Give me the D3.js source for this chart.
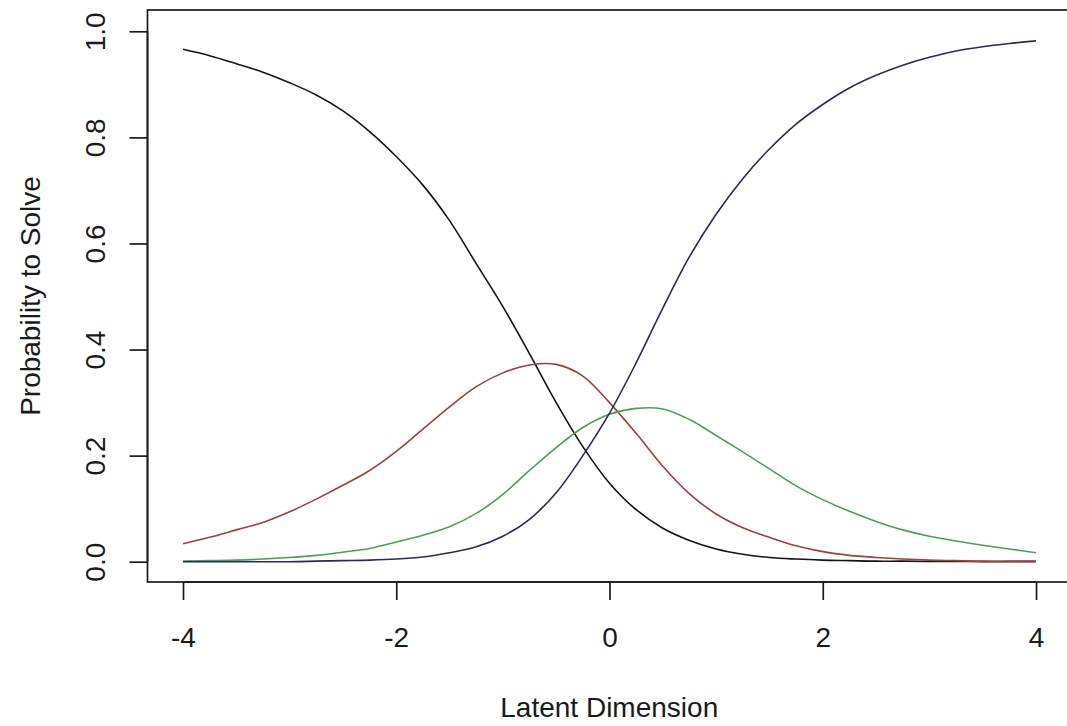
<!DOCTYPE html>
<html>
<head>
<meta charset="utf-8">
<script src="https://cdn.jsdelivr.net/npm/d3@7"></script>
<style>
  html, body { margin: 0; padding: 0; background: #ffffff; }
  svg { display: block; }
  text { font-family: "Liberation Sans", Arial, sans-serif; fill: #1a1a1a; }
</style>
</head>
<body>
<svg id="chart" width="1067" height="726"></svg>
<script>
// Latent trait values at which the category curves are evaluated
const theta = [-4, -3.75, -3.5, -3.25, -3, -2.75, -2.5, -2.25, -2, -1.75, -1.5, -1.25, -1, -0.75, -0.5, -0.25,
  0, 0.25, 0.5, 0.75, 1, 1.25, 1.5, 1.75, 2, 2.25, 2.5, 2.75, 3, 3.25, 3.5, 3.75, 4];

// Category response probabilities
const cat0 = [0.966, 0.954, 0.939, 0.923, 0.903, 0.880, 0.850, 0.811, 0.764, 0.710, 0.643, 0.562, 0.481, 0.392, 0.300, 0.217,
  0.148, 0.098, 0.063, 0.040, 0.024, 0.014, 0.008, 0.005, 0.003, 0.002, 0.001, 0.001, 0.0005, 0.0003, 0.0002, 0.0001, 0.0001];
const cat1 = [0.034, 0.046, 0.060, 0.074, 0.094, 0.118, 0.144, 0.172, 0.208, 0.250, 0.292, 0.330, 0.356, 0.371, 0.372, 0.350,
  0.300, 0.242, 0.180, 0.128, 0.090, 0.064, 0.046, 0.030, 0.019, 0.012, 0.008, 0.005, 0.003, 0.002, 0.001, 0.001, 0.001];
const cat2 = [0.001, 0.002, 0.003, 0.005, 0.008, 0.012, 0.018, 0.025, 0.037, 0.050, 0.066, 0.091, 0.127, 0.172, 0.215, 0.253,
  0.278, 0.289, 0.288, 0.268, 0.238, 0.207, 0.175, 0.143, 0.117, 0.095, 0.076, 0.060, 0.048, 0.039, 0.031, 0.024, 0.017];
const cat3 = [0.000, 0.000, 0.000, 0.000, 0.000, 0.001, 0.002, 0.003, 0.005, 0.009, 0.017, 0.028, 0.048, 0.080, 0.130, 0.200,
  0.280, 0.375, 0.478, 0.575, 0.655, 0.722, 0.778, 0.825, 0.862, 0.893, 0.917, 0.936, 0.951, 0.963, 0.971, 0.977, 0.982];

const seriesColors = ["#141414", "#9e3f3a", "#47a24f", "#2a2862"];

const xTicks = [-4, -2, 0, 2, 4];
const yTicks = [0, 0.2, 0.4, 0.6, 0.8, 1.0];
const xTitle = "Latent Dimension";
const yTitle = "Probability to Solve";

// Plot region
const box = { left: 147.5, top: 10, right: 1071, bottom: 582 };

const x = d3.scaleLinear().domain([-4, 4]).range([183, 1036]);
const y = d3.scaleLinear().domain([0, 1]).range([561.7, 31.3]);

const svg = d3.select("#chart");
const fontPx = 28;

// Curves
const series = [cat0, cat1, cat2, cat3];
const line = d3.line()
  .x(d => x(d[0]))
  .y(d => y(d[1]))
  .curve(d3.curveCatmullRom.alpha(0.5));

svg.append("g")
  .selectAll("path")
  .data(series)
  .join("path")
  .attr("d", vals => line(theta.map((t, i) => [t, vals[i]])))
  .attr("fill", "none")
  .attr("stroke", (d, i) => seriesColors[i])
  .attr("stroke-width", 1.6)
  .attr("stroke-linejoin", "round");

// Frame around the plot region
svg.append("rect")
  .attr("x", box.left)
  .attr("y", box.top)
  .attr("width", box.right - box.left)
  .attr("height", box.bottom - box.top)
  .attr("fill", "none")
  .attr("stroke", "#1a1a1a")
  .attr("stroke-width", 1.7);

// Bottom axis
const xAxis = d3.axisBottom(x)
  .tickValues(xTicks)
  .tickFormat(d => d < 0 ? "-" + Math.abs(d) : String(d))
  .tickSize(18)
  .tickPadding(27);
const gx = svg.append("g")
  .attr("transform", `translate(0,${box.bottom})`)
  .call(xAxis);
gx.select(".domain")
  .attr("d", `M${x(xTicks[0])},0H${x(xTicks[xTicks.length - 1])}`)
  .attr("stroke", "#1a1a1a").attr("stroke-width", 1.7);
gx.selectAll(".tick line").attr("stroke", "#1a1a1a").attr("stroke-width", 1.7);
gx.selectAll(".tick text")
  .style("font-family", "Liberation Sans, Arial, sans-serif")
  .style("font-size", fontPx + "px")
  .attr("fill", "#1a1a1a");

// Left axis with labels rotated parallel to the axis
const yAxis = d3.axisLeft(y)
  .tickValues(yTicks)
  .tickFormat(d3.format(".1f"))
  .tickSize(18);
const gy = svg.append("g")
  .attr("transform", `translate(${box.left},0)`)
  .call(yAxis);
gy.select(".domain")
  .attr("d", `M0,${y(yTicks[0])}V${y(yTicks[yTicks.length - 1])}`)
  .attr("stroke", "#1a1a1a").attr("stroke-width", 1.7);
gy.selectAll(".tick line").attr("stroke", "#1a1a1a").attr("stroke-width", 1.7);
gy.selectAll(".tick text")
  .attr("x", 0)
  .attr("dy", null)
  .attr("transform", "translate(-42.5,0) rotate(-90)")
  .attr("text-anchor", "middle")
  .attr("dominant-baseline", "auto")
  .style("font-family", "Liberation Sans, Arial, sans-serif")
  .style("font-size", fontPx + "px")
  .attr("fill", "#1a1a1a");

// Axis titles
svg.append("text")
  .attr("x", (box.left + box.right) / 2)
  .attr("y", 717)
  .attr("text-anchor", "middle")
  .style("font-size", fontPx + "px")
  .text(xTitle);

svg.append("text")
  .attr("transform", `translate(40,${(box.top + box.bottom) / 2}) rotate(-90)`)
  .attr("text-anchor", "middle")
  .style("font-size", fontPx + "px")
  .text(yTitle);
</script>
</body>
</html>
